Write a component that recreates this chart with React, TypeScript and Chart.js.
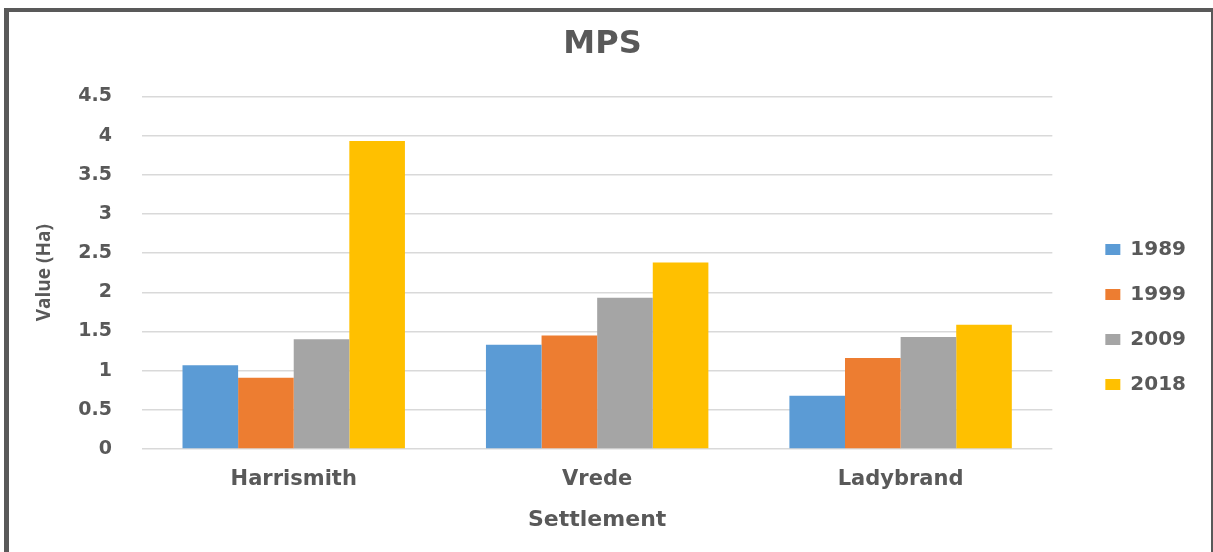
import React, { useEffect, useRef } from "react";
import { Chart, registerables } from "chart.js";

Chart.register(...registerables);

const categories = ["Harrismith", "Vrede", "Ladybrand"];
const seriesLabels = ["1989", "1999", "2009", "2018"];
const values1989 = [1.07, 1.33, 0.68];
const values1999 = [0.91, 1.45, 1.16];
const values2009 = [1.4, 1.93, 1.43];
const values2018 = [3.93, 2.38, 1.585];
const seriesColors = ["#5B9BD5", "#ED7D31", "#A5A5A5", "#FFC000"];
const yMin = 0;
const yMax = 4.5;
const yStep = 0.5;

const TEXT = "#595959";
const FONT = "'DejaVu Sans', sans-serif";

// moves the legend block down so it sits where the reference places it
const legendShift = {
  id: "legendShift",
  afterLayout(chart: any) {
    const lg = chart.legend;
    if (lg) {
      lg.top += 35;
      lg.bottom += 35;
    }
  },
};

export default function App() {
  const ref = useRef<HTMLCanvasElement | null>(null);

  useEffect(() => {
    if (!ref.current) return;
    const seriesValues = [values1989, values1999, values2009, values2018];
    const chart = new Chart(ref.current, {
      type: "bar",
      data: {
        labels: categories,
        datasets: seriesLabels.map((label, i) => ({
          label,
          data: seriesValues[i],
          backgroundColor: seriesColors[i],
          borderWidth: 0,
          categoryPercentage: 0.733,
          barPercentage: 1.0,
        })),
      },
      plugins: [legendShift],
      options: {
        responsive: false,
        animation: false,
        layout: { padding: { left: 0, right: 15, top: 0, bottom: 0 } },
        plugins: {
          title: {
            display: true,
            text: "MPS",
            color: TEXT,
            font: { family: FONT, size: 32, weight: "bold" },
            padding: { top: 13, bottom: 33 },
          },
          legend: {
            display: true,
            position: "right",
            align: "center",
            labels: {
              boxWidth: 15,
              boxHeight: 11,
              padding: 25,
              color: TEXT,
              font: { family: FONT, size: 20, weight: "bold" },
            },
          },
          tooltip: { enabled: false },
        },
        scales: {
          x: {
            grid: { display: false },
            border: { display: false },
            ticks: {
              color: TEXT,
              padding: 10,
              font: { family: FONT, size: 21, weight: "bold" },
            },
            title: {
              display: true,
              text: "Settlement",
              color: TEXT,
              font: { family: FONT, size: 22, weight: "bold" },
              padding: { top: 0, bottom: 18.5 },
            },
            afterFit: (s: any) => {
              s.height = 103;
            },
          },
          y: {
            min: yMin,
            max: yMax,
            grid: { color: "#d9d9d9", lineWidth: 1.5, drawTicks: false },
            border: { display: false },
            ticks: {
              stepSize: yStep,
              color: TEXT,
              padding: 30,
              font: { family: FONT, size: 19, weight: "bold" },
              callback: (v: any) => String(Number(v)),
            },
            title: {
              display: true,
              text: "Value (Ha)",
              color: TEXT,
              font: { family: "'Open Sans', sans-serif", size: 19, weight: "bold" },
              padding: { top: 24, bottom: 0 },
            },
            afterFit: (s: any) => {
              s.width = 133;
            },
          },
          spacer: {
            type: "linear",
            position: "right",
            display: true,
            grid: { display: false },
            border: { display: false },
            ticks: { display: false },
            afterFit: (s: any) => {
              s.width = 28;
            },
          },
        },
      },
    } as any);
    return () => chart.destroy();
  }, []);

  return (
    <div
      style={{
        position: "fixed",
        left: 4,
        top: 8,
        width: 1202,
        height: 540,
        borderLeft: "5px solid #595959",
        borderTop: "4px solid #595959",
        borderRight: "2px solid #595959",
        background: "#ffffff",
      }}
    >
      <canvas ref={ref} width={1202} height={540} style={{ display: "block", width: 1202, height: 540 }} />
    </div>
  );
}
